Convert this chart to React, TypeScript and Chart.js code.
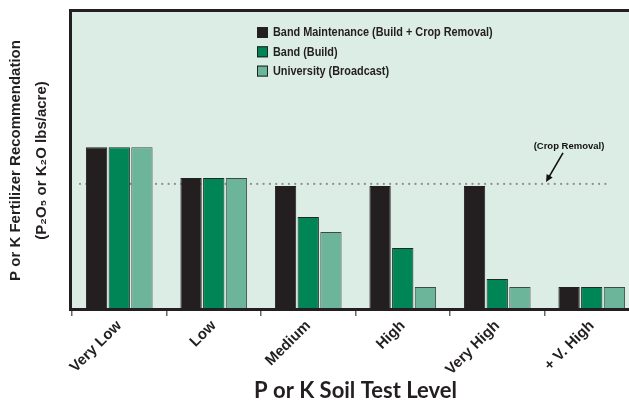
import { useEffect, useRef } from "react";
import { Chart, registerables } from "chart.js";

Chart.register(...registerables);

const categories = ["Very Low", "Low", "Medium", "High", "Very High", "+ V. High"];
const seriesLabels = [
  "Band Maintenance (Build + Crop Removal)",
  "Band (Build)",
  "University (Broadcast)",
];
const bandMaintenance = [54.5, 44.1, 41.4, 41.4, 41.4, 7.4];
const bandBuild = [54.5, 44.1, 31.0, 20.5, 10.1, 7.4];
const university = [54.5, 44.1, 25.9, 7.4, 7.4, 7.4];
const cropRemoval = 42.1;
const cropRemovalLabel = "(Crop Removal)";
const yTitle = ["P or K Fertilizer Recommendation", "(P\u2082O\u2085 or K\u2082O lbs/acre)"];
const xTitle = "P or K Soil Test Level";

const colors = ["#231f20", "#008556", "#6db59a"];
const borders = ["#231f20", "#1f2a24", "#3f4a45"];
const BG = "#dcede6";
const INK = "#231f20";

const decorPlugin = {
  id: "decor",
  beforeDatasetsDraw(chart: any) {
    const { ctx, chartArea } = chart;
    ctx.save();
    ctx.fillStyle = BG;
    ctx.fillRect(chartArea.left, chartArea.top, chartArea.right - chartArea.left, chartArea.bottom - chartArea.top);
    const y = chart.scales.y.getPixelForValue(cropRemoval);
    ctx.fillStyle = "#8c8c8c";
    for (let x = chartArea.left + 8; x <= chartArea.right - 32; x += 6.33) {
      ctx.beginPath();
      ctx.arc(x, y, 1.1, 0, Math.PI * 2);
      ctx.fill();
    }
    ctx.restore();
  },
  afterDatasetsDraw(chart: any) {
    const { ctx, chartArea } = chart;
    ctx.save();
    ctx.strokeStyle = INK;
    ctx.lineWidth = 3;
    ctx.beginPath();
    ctx.moveTo(chartArea.left - 1.5, chartArea.bottom + 0.5);
    ctx.lineTo(chartArea.left - 1.5, chartArea.top - 1.5);
    ctx.lineTo(chartArea.right + 2, chartArea.top - 1.5);
    ctx.stroke();
    ctx.beginPath();
    ctx.moveTo(chartArea.left - 3, chartArea.bottom + 0.5);
    ctx.lineTo(chartArea.right + 2, chartArea.bottom + 0.5);
    ctx.stroke();

    // legend
    const lx = chartArea.left + 185;
    const ly = chartArea.top + 20.5;
    ctx.textBaseline = "middle";
    chart.data.datasets.forEach((ds: any, i: number) => {
      const yy = ly + i * 19.3;
      ctx.fillStyle = ds.backgroundColor;
      ctx.fillRect(lx, yy - 5.5, 11, 11);
      ctx.lineWidth = 1;
      ctx.strokeStyle = "#222";
      ctx.strokeRect(lx + 0.5, yy - 5, 10, 10);
      ctx.fillStyle = INK;
      ctx.save();
      ctx.translate(lx + 16, yy + 0.5);
      ctx.scale(0.87, 1);
      ctx.font = "bold 12.5px 'Liberation Sans', Arial, sans-serif";
      ctx.fillText(ds.label, 0, 0);
      ctx.restore();
    });

    // crop removal annotation
    const y = chart.scales.y.getPixelForValue(cropRemoval);
    const tipX = chartArea.right - 93;
    const tipY = y - 2;
    const tailX = tipX + 17;
    const tailY = y - 31;
    ctx.strokeStyle = "#111";
    ctx.fillStyle = "#111";
    ctx.lineWidth = 1.6;
    ctx.beginPath();
    ctx.moveTo(tailX, tailY);
    ctx.lineTo(tipX + 3, tipY - 5);
    ctx.stroke();
    const ang = Math.atan2(tipY - tailY, tipX - tailX);
    ctx.beginPath();
    ctx.moveTo(tipX, tipY);
    ctx.lineTo(tipX - 8 * Math.cos(ang - 0.45), tipY - 8 * Math.sin(ang - 0.45));
    ctx.lineTo(tipX - 8 * Math.cos(ang + 0.45), tipY - 8 * Math.sin(ang + 0.45));
    ctx.closePath();
    ctx.fill();
    ctx.font = "bold 9.5px 'Liberation Sans', Arial, sans-serif";
    ctx.textAlign = "center";
    ctx.fillText(cropRemovalLabel, tipX + 23, y - 38);
    ctx.restore();
  },
};

export default function App() {
  const ref = useRef<HTMLCanvasElement>(null);
  useEffect(() => {
    if (!ref.current) return;
    const chart = new Chart(ref.current, {
      type: "bar",
      data: {
        labels: categories,
        datasets: [bandMaintenance, bandBuild, university].map((d, i) => ({
          label: seriesLabels[i],
          data: d,
          backgroundColor: colors[i],
          borderColor: borders[i],
          borderWidth: 1,
          categoryPercentage: 0.72,
          barPercentage: 0.94,
        })),
      },
      options: {
        responsive: false,
        animation: false,
        devicePixelRatio: 1,
        layout: { padding: { top: 12, right: 21, left: 0, bottom: 0 } },
        plugins: { legend: { display: false }, tooltip: { enabled: false } },
        scales: {
          x: {
            offset: true,
            grid: { offset: true, drawOnChartArea: false, drawTicks: true, tickLength: 7, color: "#666", lineWidth: 1.5 },
            border: { display: false },
            ticks: {
              minRotation: 45,
              maxRotation: 45,
              padding: 1,
              color: INK,
              font: { family: "'Liberation Sans', Arial, sans-serif", size: 15, weight: "bold" },
            },
            title: {
              display: true,
              text: xTitle,
              color: INK,
              font: { family: "Lato, 'Open Sans', sans-serif", size: 22, weight: "bold" },
              padding: { top: 0, bottom: 2 },
            },
            afterFit: (s: any) => { s.height = 97; },
          },
          y: {
            min: 0,
            max: 100,
            grid: { display: false, drawTicks: false },
            border: { display: false },
            ticks: { display: false },
            title: {
              display: true,
              text: yTitle,
              color: INK,
              font: { family: "'Liberation Sans', Arial, sans-serif", size: 15, weight: "bold", lineHeight: 1.73 },
              padding: { top: 3, bottom: 0 },
            },
            afterFit: (s: any) => { s.width = 72; },
          },
        },
      },
      plugins: [decorPlugin],
    });
    return () => chart.destroy();
  }, []);
  return (
    <div style={{ position: "fixed", left: 0, top: 0, width: 629, height: 406, overflow: "hidden", background: "#fff" }}>
      <canvas ref={ref} width={660} height={406} style={{ width: 660, height: 406, display: "block" }} />
    </div>
  );
}
